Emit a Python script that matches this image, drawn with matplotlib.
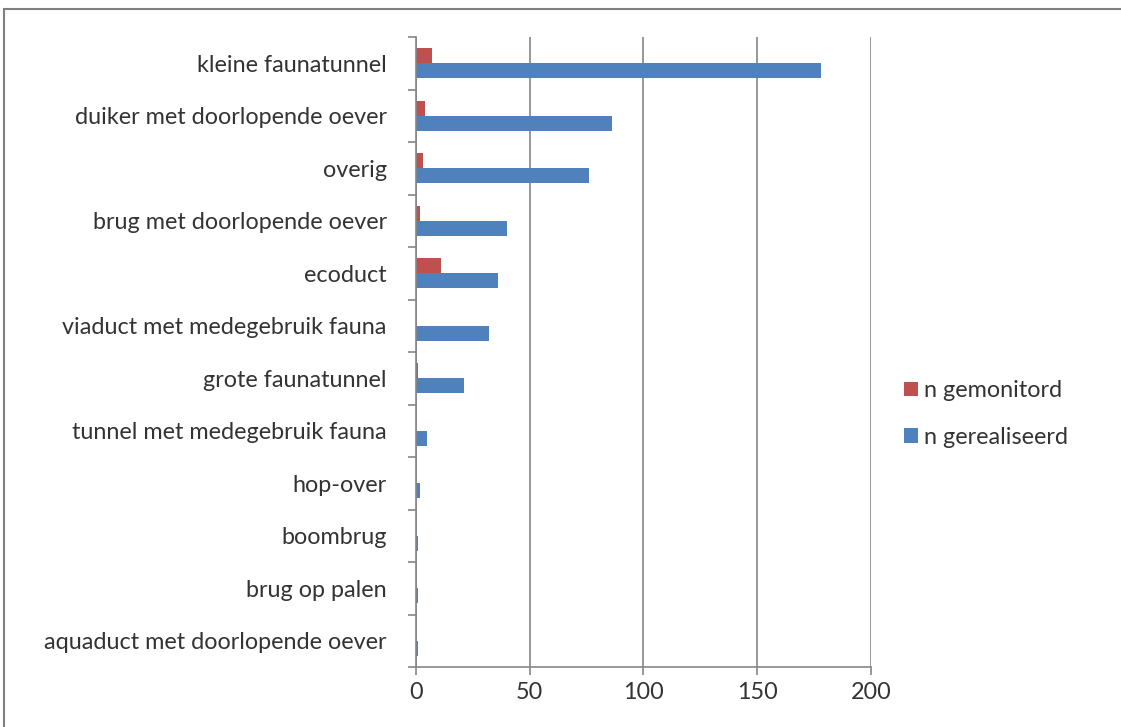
import numpy as np
import matplotlib
matplotlib.use("Agg")
import matplotlib.pyplot as plt
from matplotlib.patches import Rectangle

plt.rcParams['font.family'] = ['Lato', 'DejaVu Sans']

# data, top to bottom as in the chart
categories = ['kleine faunatunnel', 'duiker met doorlopende oever', 'overig',
              'brug met doorlopende oever', 'ecoduct', 'viaduct met medegebruik fauna',
              'grote faunatunnel', 'tunnel met medegebruik fauna', 'hop-over',
              'boombrug', 'brug op palen', 'aquaduct met doorlopende oever']
n_gemonitord = [7, 4, 3, 2, 11, 0, 1, 0, 0, 0, 0, 0]
n_gerealiseerd = [178, 86, 76, 40, 36, 32, 21, 5, 2, 1, 1, 1]

red = '#c0504d'
blue = '#4f81bd'
grey = '#868686'
txt = '#333333'
fs = 16.8

fig = plt.figure(figsize=(11.21, 7.27), dpi=100)
ax = fig.add_axes([0.371, 0.0825, 0.406, 0.8665])

y = np.arange(len(categories))
h = 0.285
ax.barh(y - h / 2, n_gemonitord, height=h, color=red, label='n gemonitord')
ax.barh(y + h / 2, n_gerealiseerd, height=h, color=blue, label='n gerealiseerd')

ax.set_ylim(len(categories) - 0.5, -0.5)
ax.set_xlim(0, 200)
ax.set_xticks([0, 50, 100, 150, 200])
ax.set_yticks(y)
ax.set_yticklabels(categories)
ax.set_yticks(np.arange(-0.5, len(categories), 1), minor=True)
ax.tick_params(axis='y', which='major', length=0, pad=21, labelsize=fs, labelcolor=txt)
ax.tick_params(axis='y', which='minor', length=6, color=grey, width=1.2, direction='out')
ax.tick_params(axis='x', length=6, color=grey, width=1.2, direction='out', pad=5,
               labelsize=fs, labelcolor=txt)

for s in ['top', 'right']:
    ax.spines[s].set_visible(False)
for s in ['left', 'bottom']:
    ax.spines[s].set_color(grey)
    ax.spines[s].set_linewidth(1.2)

ax.xaxis.grid(True, color=grey, linewidth=1.2)
ax.set_axisbelow(True)

leg = fig.legend(loc='upper left', bbox_to_anchor=(0.788, 0.506), frameon=False,
                 fontsize=fs, handlelength=0.6, handleheight=0.6, handletextpad=0.25,
                 labelspacing=1.1)
for t in leg.get_texts():
    t.set_color(txt)

# outer frame of the chart area (only top and left edges visible)
fig.patches.append(Rectangle((0.004, -0.1), 1.2, 1.088, transform=fig.transFigure,
                             fill=False, edgecolor='#7f7f7f', linewidth=1.5))

fig.savefig('out.png', dpi=100)
